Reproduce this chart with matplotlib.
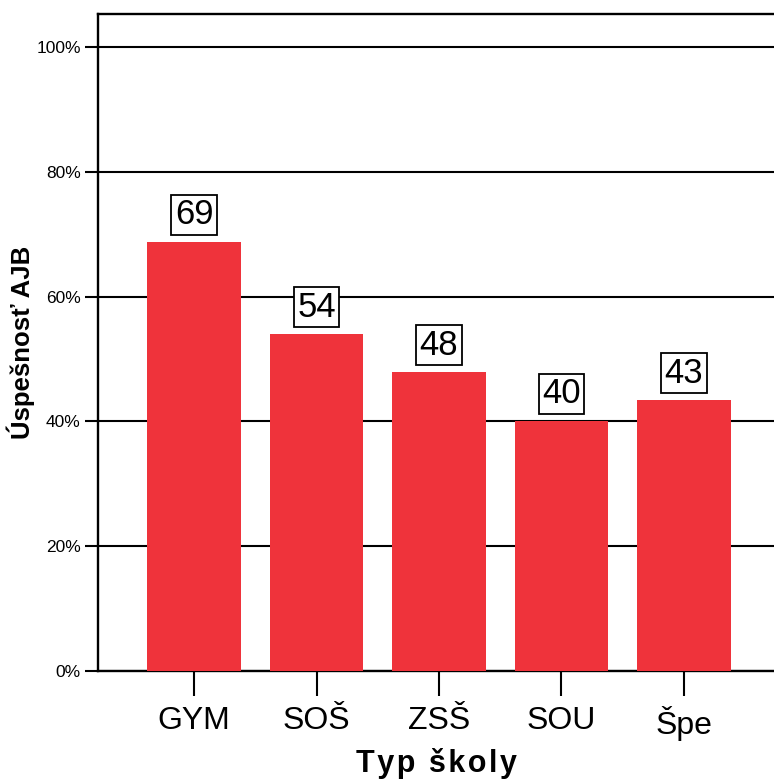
import matplotlib
matplotlib.use("Agg")
import matplotlib.pyplot as plt
from matplotlib.ticker import FuncFormatter

plt.rcParams.update({
    "font.family": ["Liberation Sans", "DejaVu Sans"],
    "figure.facecolor": "white", "axes.facecolor": "white",
})

# data
TYPES = ["GYM", "SOŠ", "ZSŠ", "SOU", "Špe"]
SUCCESS = [68.8, 54.0, 47.9, 40.1, 43.4]   # % success
Y_TICKS = [0, 20, 40, 60, 80, 100]

RED = "#EF333B"
HAIR = "\u200a"

fig = plt.figure(figsize=(7.74, 7.83), dpi=100)
ax = fig.add_axes([98 / 774, 1 - 671 / 783, 1 - 98 / 774, (671 - 14) / 783])

x = list(range(len(TYPES)))
bars = ax.bar(x, SUCCESS, width=0.76, color=RED, edgecolor="none", zorder=3)

for xi, v in zip(x, SUCCESS):
    ax.annotate(f"{v:.0f}", (xi, v), xytext=(0, 7.5), textcoords="offset points",
                ha="center", va="bottom", fontsize=25, zorder=4,
                bbox=dict(boxstyle="square,pad=0.1", fc="white", ec="black", lw=1.3))

ax.set_xlim(-0.784, 4.735)
ax.set_ylim(0, 105.3)
ax.set_yticks(Y_TICKS)
ax.yaxis.set_major_formatter(FuncFormatter(lambda v, _: f"{v:.0f}%"))
ax.set_xticks(x)
ax.set_xticklabels(TYPES, fontsize=23)
ax.tick_params(axis="y", length=9.4, width=1.5, pad=3, labelsize=12.5)
ax.tick_params(axis="x", length=18, width=1.5, pad=7, direction="out")

ax.grid(axis="y", color="black", lw=1.5, zorder=1)
ax.set_axisbelow(True)
for s in ("left", "top", "bottom"):
    ax.spines[s].set_linewidth(1.7)
ax.spines["right"].set_visible(False)

ax.set_ylabel("Úspešnosť AJB", fontsize=18.5, fontweight="bold", labelpad=1)
ax.set_xlabel(HAIR.join("Typ školy"), fontsize=22, fontweight="bold", labelpad=5)

fig.savefig("out.png", dpi=100)
